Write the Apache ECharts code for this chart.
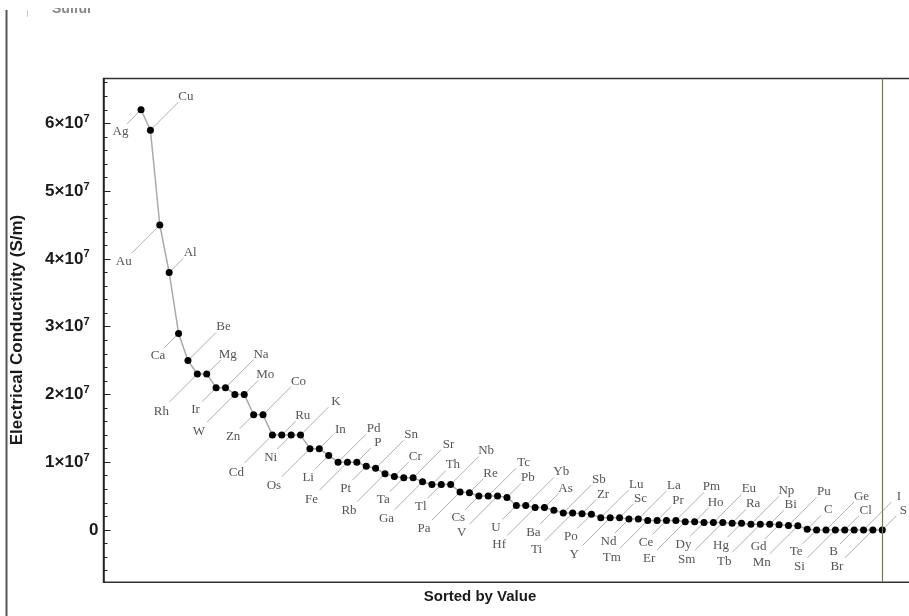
<!DOCTYPE html>
<html>
<head>
<meta charset="utf-8">
<script src="https://cdn.jsdelivr.net/npm/echarts@6/dist/echarts.min.js"></script>
<style>
html,body{margin:0;padding:0;background:#fff;}
#chart{width:909px;height:616px;}
</style>
</head>
<body>
<div id="chart"></div>
<script>
// Elements, in sorted order (as shown in the chart)
const elements = ['Ag','Cu','Au','Al','Ca','Be','Rh','Mg','Ir','Na','W','Mo','Zn','Co','Cd','Ru','Ni','K',
  'Os','In','Li','Pd','Fe','P','Pt','Sn','Rb','Cr','Ta','Sr','Ga','Th','Tl','Nb','Pa','Re','Cs','Tc','V','Pb',
  'U','Yb','Hf','As','Ba','Sb','Ti','Zr','Po','Lu','Y','Sc','Nd','La','Tm','Pr','Ce','Pm','Er','Ho','Dy','Eu',
  'Sm','Ra','Hg','Np','Tb','Bi','Gd','Pu','Mn','C','Te','Ge','Si','Cl','B','I','Br','S'];

// Electrical conductivity (S/m)
const conductivity = [6.2e7,5.9e7,4.5e7,3.8e7,2.9e7,2.5e7,2.3e7,2.3e7,2.1e7,2.1e7,2.0e7,2.0e7,1.7e7,1.7e7,
  1.4e7,1.4e7,1.4e7,1.4e7,1.2e7,1.2e7,1.1e7,1.0e7,1.0e7,1.0e7,9.4e6,9.1e6,8.3e6,7.9e6,7.7e6,7.7e6,7.1e6,
  6.7e6,6.7e6,6.7e6,5.6e6,5.5e6,5.0e6,5.0e6,5.0e6,4.8e6,3.6e6,3.6e6,3.3e6,3.3e6,2.9e6,2.5e6,2.5e6,2.4e6,
  2.3e6,1.8e6,1.8e6,1.8e6,1.6e6,1.6e6,1.4e6,1.4e6,1.4e6,1.4e6,1.2e6,1.2e6,1.1e6,1.1e6,1.1e6,1.0e6,1.0e6,
  8.3e5,8.3e5,8.3e5,7.7e5,6.7e5,6.2e5,1e5,1e4,2e3,1e3,1e-8,1e-4,1e-7,1e-10,1e-15];

// Axis tick values
const majorTicks = [0, 1e7, 2e7, 3e7, 4e7, 5e7, 6e7];
const minorTicks = [-6e6,-4e6,-2e6,2e6,4e6,6e6,8e6,12e6,14e6,16e6,18e6,22e6,24e6,26e6,28e6,32e6,34e6,36e6,38e6,
  42e6,44e6,46e6,48e6,52e6,54e6,56e6,58e6,62e6,64e6,66e6];

const yTitle = 'Electrical Conductivity (S/m)';
const xTitle = 'Sorted by Value';
const cutTitle = 'Sulfur';

const points = conductivity.map((v, i) => [i, v, elements[i]]);

const chart = echarts.init(document.getElementById('chart'), null, {renderer: 'canvas'});

// callout pattern: down-left short, up-right long, down-left long, up-right short
const calloutPattern = [
  {sx: -1, sy: 1, line: 14, tx: -20.5, ty: 22},
  {sx: 1, sy: -1, line: 28, tx: 35.5, ty: -33.5},
  {sx: -1, sy: 1, line: 28, tx: -36, ty: 37},
  {sx: 1, sy: -1, line: 14, tx: 21, ty: -19.5}
];

const yMin = -7.725e6, yMax = 6.662e7;

chart.setOption({
  animation: false,
  backgroundColor: '#fff',
  grid: {left: 103.5, top: 78.5, width: 825.7, height: 503.8, show: true, outerBoundsMode: 'none',
    containLabel: false, borderColor: '#333', borderWidth: 1.5, backgroundColor: 'transparent'},
  xAxis: {type: 'value', min: -4, max: 84, show: true,
    axisLine: {show: false}, axisTick: {show: false}, axisLabel: {show: false}, splitLine: {show: false}},
  yAxis: [{
    type: 'value', min: yMin, max: yMax, position: 'left',
    axisLine: {show: true, onZero: false, lineStyle: {color: '#222', width: 1.5}},
    splitLine: {show: false},
    axisTick: {show: true, inside: true, length: 7, customValues: majorTicks, lineStyle: {color: '#222', width: 1}},
    axisLabel: {
      show: true, customValues: majorTicks, margin: 5,
      formatter: function (v) {
        if (v === 0) return '{a|0}';
        return '{a|' + Math.round(v / 1e7) + '\u00d710}{b|7}{s|}';
      },
      rich: {
        a: {fontFamily: 'Liberation Sans', fontWeight: 'bold', fontSize: 17, color: '#1a1a1a', lineHeight: 20},
        b: {fontFamily: 'Liberation Sans', fontWeight: 'bold', fontSize: 11, color: '#1a1a1a', lineHeight: 12, verticalAlign: 'top'},
        s: {width: 9}
      }
    }
  }, {
    type: 'value', min: yMin, max: yMax, position: 'left', offset: 0,
    axisLine: {show: false, onZero: false}, splitLine: {show: false}, axisLabel: {show: false},
    axisTick: {show: true, inside: true, length: 4, customValues: minorTicks, lineStyle: {color: '#222', width: 1}}
  }],
  graphic: [
    {type: 'line', shape: {x1: 6.5, y1: 10, x2: 6.5, y2: 616}, style: {stroke: '#555', lineWidth: 2}},
    {type: 'line', shape: {x1: 27.5, y1: 10, x2: 27.5, y2: 17}, style: {stroke: '#ccc', lineWidth: 1}},
    {type: 'text', x: 52, y: 16, style: {text: cutTitle, fill: '#888', font: 'bold 14px "Liberation Sans"', textAlign: 'left', textVerticalAlign: 'bottom'}},
    {type: 'rect', shape: {x: 40, y: 0, width: 70, height: 8}, style: {fill: '#fff'}, z: 10},
    {type: 'text', x: 17, y: 330, rotation: Math.PI / 2,
      style: {text: yTitle, fill: '#1a1a1a', font: 'bold 17px "Liberation Sans"', textAlign: 'center', textVerticalAlign: 'middle'}},
    {type: 'text', x: 480, y: 597,
      style: {text: xTitle, fill: '#1a1a1a', font: 'bold 15px "Liberation Sans"', textAlign: 'center', textVerticalAlign: 'middle'}}
  ],
  series: [{
    type: 'custom',
    coordinateSystem: 'cartesian2d',
    data: points,
    encode: {x: 0, y: 1},
    z: 1,
    renderItem: function (params, api) {
      const i = api.value(0);
      const p = api.coord([i, api.value(1)]);
      const c = calloutPattern[i % 4];
      const name = elements[i];
      return {
        type: 'group',
        children: [{
          type: 'line',
          shape: {x1: p[0], y1: p[1], x2: p[0] + c.sx * c.line, y2: p[1] + c.sy * c.line},
          style: {stroke: '#9a9a9a', lineWidth: 0.8}
        }, {
          type: 'text',
          style: {text: name, x: p[0] + c.tx, y: p[1] + c.ty, align: 'center', verticalAlign: 'middle',
            font: '13px "Liberation Serif"', fill: '#555'}
        }]
      };
    }
  }, {
    type: 'line',
    data: points,
    z: 3,
    symbol: 'circle',
    symbolSize: 7,
    showSymbol: true,
    itemStyle: {color: '#000'},
    lineStyle: {color: '#aaa', width: 1.5},
    markLine: {
      silent: true, symbol: 'none', label: {show: false},
      lineStyle: {color: '#77775a', width: 1.2, type: 'solid'},
      data: [{xAxis: elements.length - 1}]
    }
  }]
});
</script>
</body>
</html>
